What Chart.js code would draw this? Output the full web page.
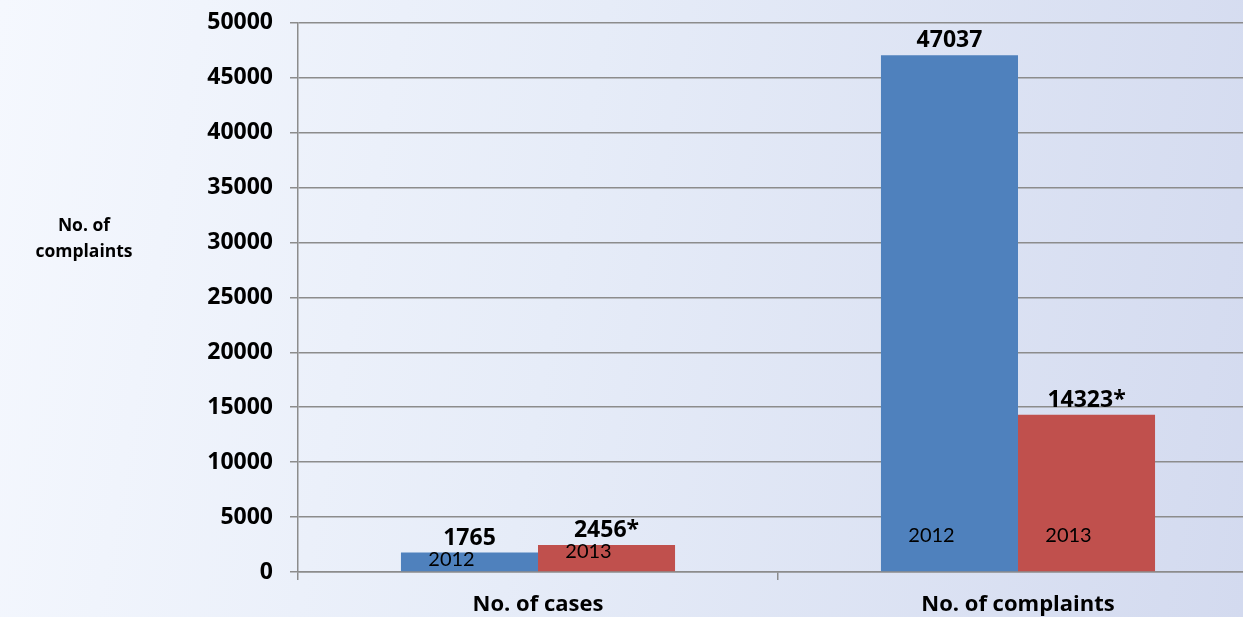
<!DOCTYPE html>
<html>
<head>
<meta charset="utf-8">
<script src="https://cdn.jsdelivr.net/npm/chart.js@4"></script>
<style>
  html, body { margin: 0; padding: 0; overflow: hidden; }
  body {
    width: 1243px; height: 617px;
    background: linear-gradient(100deg, #f5f8fe 0%, #e6ecf8 45%, #d3daef 100%);
  }
  #wrap { position: absolute; left: 0; top: -8px; width: 1260px; height: 625px; }
</style>
</head>
<body>
<div id="wrap"><canvas id="chart"></canvas></div>
<script>
const categories = ["No. of cases", "No. of complaints"];
const years = ["2012", "2013"];
const values2012 = [1765, 47037];
const values2013 = [2456, 14323];
const valueLabels2012 = ["1765", "47037"];
const valueLabels2013 = ["2456*", "14323*"];
const yTicks = [0, 5000, 10000, 15000, 20000, 25000, 30000, 35000, 40000, 45000, 50000];
const yTitle = ["No. of", "complaints"];

const BOLD = "'Open Sans', Lato, sans-serif";
const FONT = "Lato, 'Open Sans', sans-serif";

// value labels above bars and year labels inside bars
const barLabels = {
  id: "barLabels",
  afterDatasetsDraw(chart) {
    const ctx = chart.ctx;
    const labelSets = [valueLabels2012, valueLabels2013];
    chart.data.datasets.forEach((ds, i) => {
      const meta = chart.getDatasetMeta(i);
      meta.data.forEach((bar, j) => {
        ctx.save();
        ctx.fillStyle = "#000";
        ctx.textAlign = "center";
        ctx.textBaseline = "alphabetic";
        ctx.font = "bold 23px " + BOLD;
        ctx.fillText(labelSets[i][j], bar.x, bar.y - 8);
        // year inside the bar
        ctx.font = "20px " + FONT;
        ctx.textBaseline = "middle";
        const yy = Math.max(bar.y + 7, bar.base - 36);
        ctx.fillText(years[i], bar.x - 18, yy);
        ctx.restore();
      });
    });
  },
};

// horizontal y axis title on the left
const yTitlePlugin = {
  id: "yTitlePlugin",
  afterDraw(chart) {
    const ctx = chart.ctx;
    ctx.save();
    ctx.fillStyle = "#000";
    ctx.textAlign = "center";
    ctx.textBaseline = "middle";
    ctx.font = "bold 17.5px " + BOLD;
    // canvas is shifted up by 8px
    ctx.fillText(yTitle[0], 84, 234);
    ctx.fillText(yTitle[1], 84, 260);
    ctx.restore();
  },
};

new Chart(document.getElementById("chart"), {
  type: "bar",
  data: {
    labels: categories,
    datasets: [
      { label: years[0], data: values2012, backgroundColor: "#4f81bd" },
      { label: years[1], data: values2013, backgroundColor: "#c0504d" },
    ],
  },
  options: {
    responsive: true,
    maintainAspectRatio: false,
    animation: false,
    layout: { padding: { top: 12, right: 2, left: 0, bottom: 0 } },
    categoryPercentage: 0.571,
    barPercentage: 1,
    plugins: {
      legend: { display: false },
      tooltip: { enabled: false },
    },
    scales: {
      x: {
        grid: {
          offset: true,
          drawOnChartArea: false,
          color: "#8c8c8c",
          lineWidth: 1.5,
          tickLength: 8,
        },
        border: { color: "#8c8c8c", width: 1.5 },
        ticks: {
          color: "#000",
          font: { family: BOLD, size: 22, weight: "bold" },
          padding: 12,
        },
        afterFit(scale) { scale.height = 45; },
      },
      y: {
        min: 0,
        max: 50000,
        afterBuildTicks(scale) { scale.ticks = yTicks.map((v) => ({ value: v })); },
        grid: { color: "#8c8c8c", lineWidth: 1.5, tickLength: 8 },
        border: { color: "#8c8c8c", width: 1.5 },
        ticks: {
          color: "#000",
          font: { family: BOLD, size: 23, weight: "bold" },
          padding: 17,
          callback: (v) => String(v),
        },
        afterFit(scale) { scale.width = 298; },
      },
    },
  },
  plugins: [barLabels, yTitlePlugin],
});
</script>
</body>
</html>
